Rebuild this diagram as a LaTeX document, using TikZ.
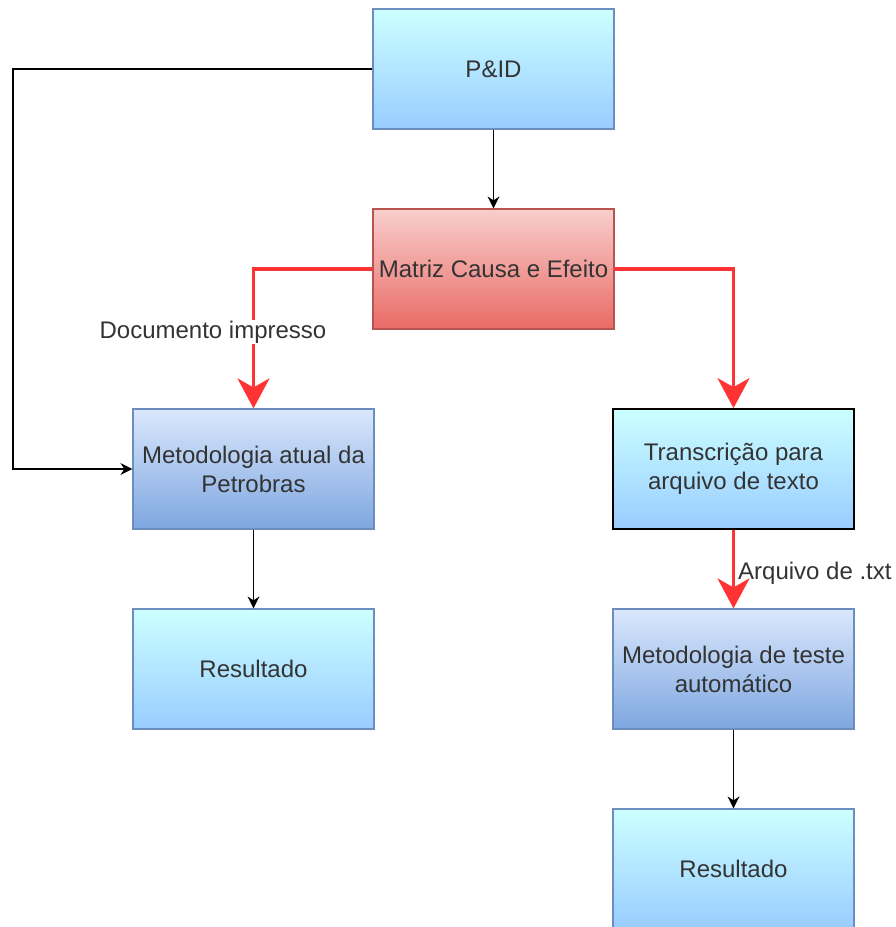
\documentclass[tikz,border=0pt]{standalone}
\usepackage{fontspec}
\setmainfont{Liberation Sans}
\usetikzlibrary{arrows.meta}
\definecolor{cyanTop}{HTML}{CCFFFF}
\definecolor{cyanBot}{HTML}{99CCFF}
\definecolor{blueTop}{HTML}{DAE8FC}
\definecolor{blueBot}{HTML}{7EA6E0}
\definecolor{blueLine}{HTML}{6C8EBF}
\definecolor{redTop}{HTML}{F8CECC}
\definecolor{redBot}{HTML}{EA6B66}
\definecolor{redLine}{HTML}{B85450}
\definecolor{flow}{HTML}{FF3333}
\definecolor{txt}{HTML}{333333}
\tikzset{
  box/.style={rectangle, minimum width=241pt, minimum height=120pt, inner sep=0pt,
    align=center, text=txt, font=\fontsize{24}{29}\selectfont, line width=1.2pt},
  cyanbox/.style={box, draw=blueLine, top color=cyanTop, bottom color=cyanBot},
  bluebox/.style={box, draw=blueLine, top color=blueTop, bottom color=blueBot},
  redbox/.style={box, draw=redLine, top color=redTop, bottom color=redBot},
  blackbox/.style={box, draw=black, line width=1.8pt, top color=cyanTop, bottom color=cyanBot},
  link/.style={draw=black, line width=1.7pt, -{Stealth[length=12pt,width=12pt,inset=4pt]}},
  redlink/.style={draw=flow, line width=3.5pt, -{Stealth[length=30pt,width=32pt,inset=9pt]}},
  lbl/.style={text=txt, font=\fontsize{24}{29}\selectfont, inner sep=1pt},
}
\begin{document}
\begin{tikzpicture}[x=1pt,y=-1pt]
\useasboundingbox (0,0) rectangle (896,927);
\node[cyanbox] (pid) at (493.5,69) {P\&ID};
\node[redbox] (mce) at (493.5,269) {Matriz Causa e Efeito};
\node[bluebox] (mat) at (253.5,469) {Metodologia atual da\\Petrobras};
\node[cyanbox] (res1) at (253.5,669) {Resultado};
\node[blackbox] (tra) at (733.5,469) {Transcrição para\\arquivo de texto};
\node[bluebox] (mte) at (733.5,669) {Metodologia de teste\\automático};
\node[cyanbox] (res2) at (733.5,869) {Resultado};
\coordinate (c1) at (13,69);
\coordinate (c2) at (13,469);
\draw[link] (pid.west) -- (c1) -- (c2) -- (mat.west);
\draw[link] (pid.south) -- (mce.north);
\draw[link] (mat.south) -- (res1.north);
\draw[link] (mte.south) -- (res2.north);
\draw[redlink] (mce.west) -| (mat.north);
\draw[redlink] (mce.east) -| (tra.north);
\draw[redlink] (tra.south) -- (mte.north);
\node[lbl, fill=white] (l1) at (213,332) {Documento impresso};
\node[lbl, anchor=west] (l2) at (737,573) {Arquivo de .txt};
\end{tikzpicture}
\end{document}
